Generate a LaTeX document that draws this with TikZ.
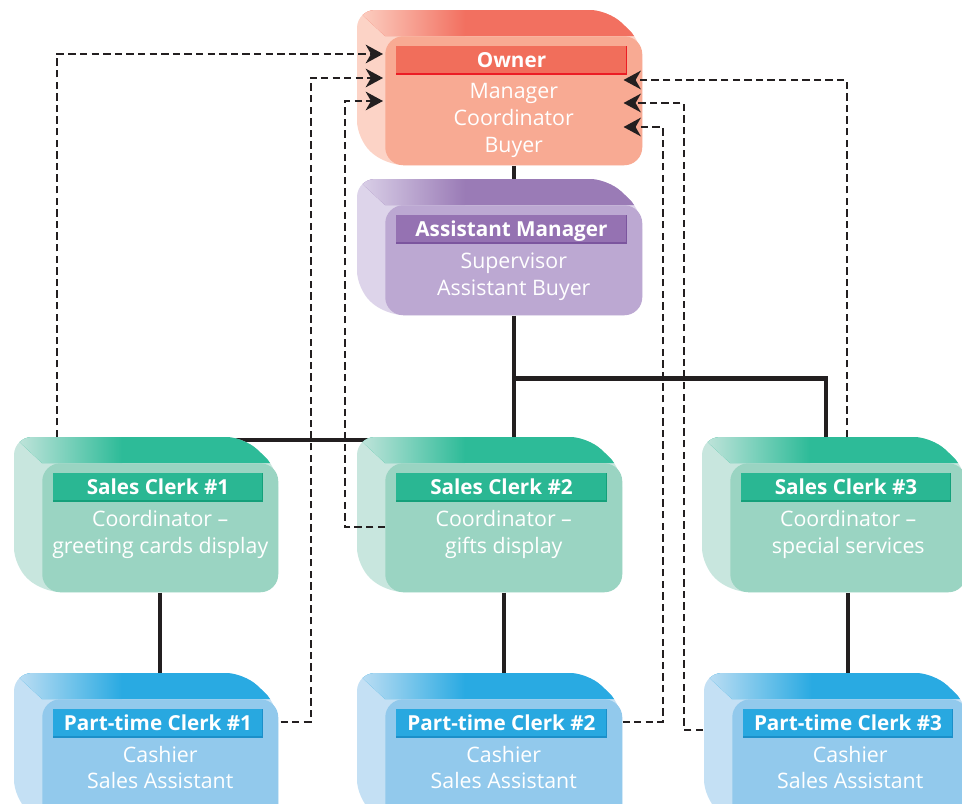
\documentclass[tikz,border=0pt]{standalone}
\usepackage{fontspec}
\setmainfont{Open Sans}
\usetikzlibrary{calc,arrows.meta}
\pgfdeclarelayer{bg}
\pgfsetlayers{bg,main}
% owner (red)
\definecolor{owntop}{HTML}{F27060}
\definecolor{ownfront}{HTML}{F8AA93}
\definecolor{ownside}{HTML}{FCD3C6}
\definecolor{ownbar}{HTML}{F16E5B}
\definecolor{ownborder}{HTML}{EC1C24}
% assistant manager (purple)
\definecolor{asmtop}{HTML}{9A7BB6}
\definecolor{asmfront}{HTML}{BCA8D2}
\definecolor{asmside}{HTML}{DDD4EA}
\definecolor{asmbar}{HTML}{9572B2}
\definecolor{asmborder}{HTML}{7B559E}
% sales clerks (green)
\definecolor{clktop}{HTML}{2DBB98}
\definecolor{clkfront}{HTML}{9AD4C2}
\definecolor{clkside}{HTML}{C8E6DE}
\definecolor{clkbar}{HTML}{2AB793}
\definecolor{clkborder}{HTML}{14A07A}
% part-time clerks (blue)
\definecolor{prttop}{HTML}{29AAE2}
\definecolor{prtfront}{HTML}{92C9EC}
\definecolor{prtside}{HTML}{C4E0F4}
\definecolor{prtbar}{HTML}{28A8E0}
\definecolor{prtborder}{HTML}{1B8FC9}
\definecolor{lineblack}{HTML}{231F20}

\tikzset{
  frontface/.style={anchor=north west, rounded corners=13.5pt, inner sep=0pt, draw=none},
  titletext/.style={text=white, font=\fontsize{15.5}{18}\selectfont\bfseries, inner sep=0pt, anchor=base},
  bodytext/.style={text=white, font=\fontsize{16}{19}\selectfont, inner sep=0pt, anchor=base},
  tree/.style={draw=lineblack, line width=3.3pt},
  dashline/.style={draw=lineblack, line width=1.5pt, dash pattern=on 5.5pt off 3.2pt},
  arr/.style={-{Stealth[length=13pt,width=14pt,inset=4pt]}}
}

% #1 name, #2 x, #3 y (front top-left, px), #4 width, #5 height, #6 colour prefix, #7 title
\newcommand{\orgbox}[7]{%
  \begin{scope}[shift={(#2,#3)}]
    \begin{scope}
      \clip[rounded corners=13.5pt] (-28,-26) -- ({#4-34},-26) -- (#4,6) -- (#4,#5) -- (0,#5) -- (-28,{#5-26}) -- cycle;
      \fill[#6side] (-40,-40) rectangle ({#4+10},{#5+10});
      \fill[#6top] (-60,-56) -- ({#4+20},-56) -- ({#4+20},0) -- (0,0) -- cycle;
      \begin{scope}
        \clip (-60,-56) -- (100,-56) -- (100,0) -- (0,0) -- cycle;
        \shade[left color=#6side, right color=#6top] (-30,-60) rectangle (80,0);
      \end{scope}
    \end{scope}
    \node[frontface, fill=#6front, minimum width={#4*0.75pt}, minimum height={#5*0.75pt}] (#1) at (0,0) {};
    \fill[#6bar] (11,10) rectangle ({#4-15},38.5);
    \draw[#6border, line width=1.1pt] (11,37.8) -- ({#4-15.7},37.8) -- ({#4-15.7},10);
    \node[titletext] (#1-title) at ({#4/2-2},31) {#7};
  \end{scope}}

\begin{document}
\begin{tikzpicture}[x=0.75pt, y=-0.75pt]
\useasboundingbox (0,0) rectangle (962,803);

% boxes
\orgbox{owner}{385}{36}{257}{129}{own}{Owner}
\orgbox{asst}{385}{205}{257}{110}{asm}{Assistant Manager}
\orgbox{c1}{42}{463}{236}{129}{clk}{Sales Clerk \#1}
\orgbox{c2}{385}{463}{237}{129}{clk}{Sales Clerk \#2}
\orgbox{c3}{730}{463}{236}{129}{clk}{Sales Clerk \#3}
\orgbox{p1}{42}{699}{236}{125}{prt}{Part-time Clerk \#1}
\orgbox{p2}{385}{699}{237}{125}{prt}{Part-time Clerk \#2}
\orgbox{p3}{732}{699}{236}{125}{prt}{Part-time Clerk \#3}

% body texts
\node[bodytext] (owner-l1) at ($(owner.north)+(0,62)$) {Manager};
\node[bodytext] (owner-l2) at ($(owner.north)+(0,89)$) {Coordinator};
\node[bodytext] (owner-l3) at ($(owner.north)+(0,116)$) {Buyer};
\node[bodytext] (asst-l1) at ($(asst.north)+(0,63)$) {Supervisor};
\node[bodytext] (asst-l2) at ($(asst.north)+(0,90)$) {Assistant Buyer};
\node[bodytext] (c1-l1) at ($(c1.north)+(0,63)$) {Coordinator –};
\node[bodytext] (c1-l2) at ($(c1.north)+(0,90)$) {greeting cards display};
\node[bodytext] (c2-l1) at ($(c2.north)+(0,63)$) {Coordinator –};
\node[bodytext] (c2-l2) at ($(c2.north)+(0,90)$) {gifts display};
\node[bodytext] (c3-l1) at ($(c3.north)+(0,63)$) {Coordinator –};
\node[bodytext] (c3-l2) at ($(c3.north)+(0,90)$) {special services};
\node[bodytext] (p1-l1) at ($(p1.north)+(0,63)$) {Cashier};
\node[bodytext] (p1-l2) at ($(p1.north)+(0,89)$) {Sales Assistant};
\node[bodytext] (p2-l1) at ($(p2.north)+(0,63)$) {Cashier};
\node[bodytext] (p2-l2) at ($(p2.north)+(0,89)$) {Sales Assistant};
\node[bodytext] (p3-l1) at ($(p3.north)+(0,63)$) {Cashier};
\node[bodytext] (p3-l2) at ($(p3.north)+(0,89)$) {Sales Assistant};

% solid reporting lines (behind boxes)
\coordinate (j1) at ($(asst.south)+(0,63)$);
\coordinate (c3in) at ($(c3.north west)+(96,0)$);
\begin{pgfonlayer}{bg}
  \draw[tree] (owner.south) -- (owner.south |- asst.north);
  \draw[tree] (asst.south) -- (j1) -| (c3in);
  \draw[tree] (j1) -- (j1 |- c2.north);
  \draw[tree] ($(c1.north)+(0,-23)$) -- ($(c2.north)+(0,-23)$);
  \draw[tree] (c1.south) -- (c1.south |- p1.north);
  \draw[tree] (c2.south) -- (c2.south |- p2.north);
  \draw[tree] (c3.south) -- (c3.south |- p3.north);
\end{pgfonlayer}

% dashed communication lines
\coordinate (ownL1) at ($(owner.north west)+(-2,18)$);
\coordinate (ownL2) at ($(owner.north west)+(-2,42)$);
\coordinate (ownL3) at ($(owner.north west)+(-2,65)$);
\coordinate (ownR1) at ($(owner.north east)+(-19,44)$);
\coordinate (ownR2) at ($(owner.north east)+(-19,67)$);
\coordinate (ownR3) at ($(owner.north east)+(-19,91)$);
\coordinate (c1src) at ($(c1.north west)+(15,-26)$);
\coordinate (p1src) at ($(p1.north east)+(2,23)$);
\coordinate (c2src) at ($(c2.north west)+(0,64)$);
\coordinate (c3src) at ($(c3.north west)+(117,-26)$);
\coordinate (p3src) at ($(p3.north west)+(-29,31)$);
\coordinate (p2src) at ($(p2.north east)+(0,23)$);

\draw[dashline, arr] (c1src) |- (ownL1);
\draw[dashline, arr] (p1src) -- ++(30,0) |- (ownL2);
\draw[dashline, arr] (c2src) -- ++(-40,0) |- (ownL3);
\draw[dashline, arr] (c3src) |- (ownR1);
\draw[dashline, arr] (p3src) -- ++(-19,0) |- (ownR2);
\draw[dashline, arr] (p2src) -- ++(40,0) |- (ownR3);
\end{tikzpicture}
\end{document}
